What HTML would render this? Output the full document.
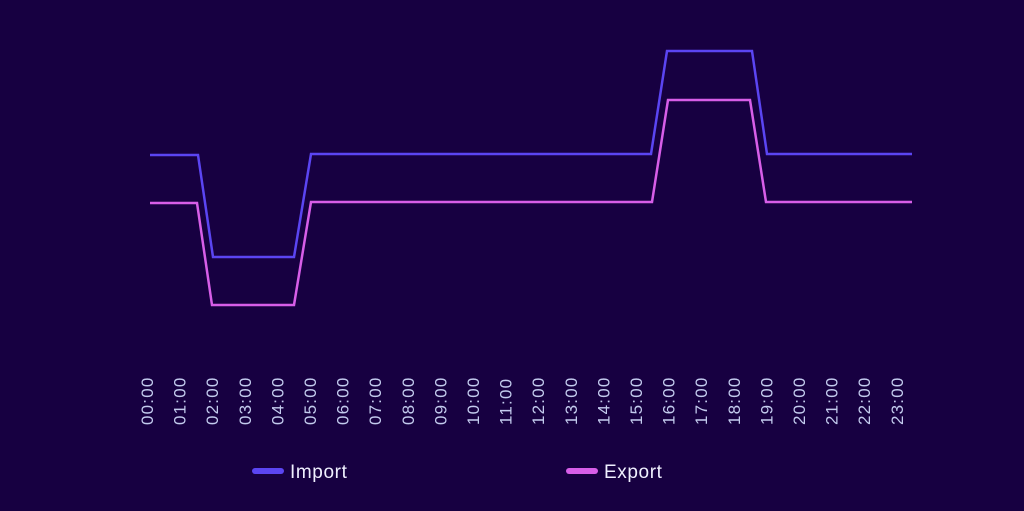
<!DOCTYPE html>
<html><head><style>
html,body{margin:0;padding:0;background:#170041;}
svg{display:block}
</style></head><body>
<svg width="1024" height="511" viewBox="0 0 1024 511" xmlns="http://www.w3.org/2000/svg">
<rect width="1024" height="511" fill="#170041"/>
<polyline fill="none" stroke="#5b45f2" stroke-width="2.5" points="150,155 198,155 213,257 294,257 311,154 651,154 667,51 752,51 767,154 912,154"/>
<polyline fill="none" stroke="#d75ee8" stroke-width="2.5" points="150,203 197,203 212,305 294,305 311,202 652,202 668,100 750,100 766,202 912,202"/>
<g font-family="Liberation Sans, sans-serif" font-size="17" letter-spacing="1.2" fill="#c3cbee" text-anchor="start">
<text transform="translate(153,425) rotate(-90)">00:00</text>
<text transform="translate(185.6,425) rotate(-90)">01:00</text>
<text transform="translate(218.2,425) rotate(-90)">02:00</text>
<text transform="translate(250.8,425) rotate(-90)">03:00</text>
<text transform="translate(283.4,425) rotate(-90)">04:00</text>
<text transform="translate(316,425) rotate(-90)">05:00</text>
<text transform="translate(348.6,425) rotate(-90)">06:00</text>
<text transform="translate(381.2,425) rotate(-90)">07:00</text>
<text transform="translate(413.8,425) rotate(-90)">08:00</text>
<text transform="translate(446.4,425) rotate(-90)">09:00</text>
<text transform="translate(479,425) rotate(-90)">10:00</text>
<text transform="translate(511.6,425) rotate(-90)">11:00</text>
<text transform="translate(544.2,425) rotate(-90)">12:00</text>
<text transform="translate(576.8,425) rotate(-90)">13:00</text>
<text transform="translate(609.4,425) rotate(-90)">14:00</text>
<text transform="translate(642,425) rotate(-90)">15:00</text>
<text transform="translate(674.6,425) rotate(-90)">16:00</text>
<text transform="translate(707.2,425) rotate(-90)">17:00</text>
<text transform="translate(739.8,425) rotate(-90)">18:00</text>
<text transform="translate(772.4,425) rotate(-90)">19:00</text>
<text transform="translate(805,425) rotate(-90)">20:00</text>
<text transform="translate(837.6,425) rotate(-90)">21:00</text>
<text transform="translate(870.2,425) rotate(-90)">22:00</text>
<text transform="translate(902.8,425) rotate(-90)">23:00</text>
</g>
<line x1="255" y1="471" x2="281" y2="471" stroke="#5b45f2" stroke-width="6" stroke-linecap="round"/>
<line x1="569" y1="471" x2="595" y2="471" stroke="#d75ee8" stroke-width="6" stroke-linecap="round"/>
<g font-family="Liberation Sans, sans-serif" font-size="19" letter-spacing="0.6" fill="#f0f0ff">
<text x="290" y="478">Import</text>
<text x="604" y="478">Export</text>
</g>
</svg>
</body></html>
